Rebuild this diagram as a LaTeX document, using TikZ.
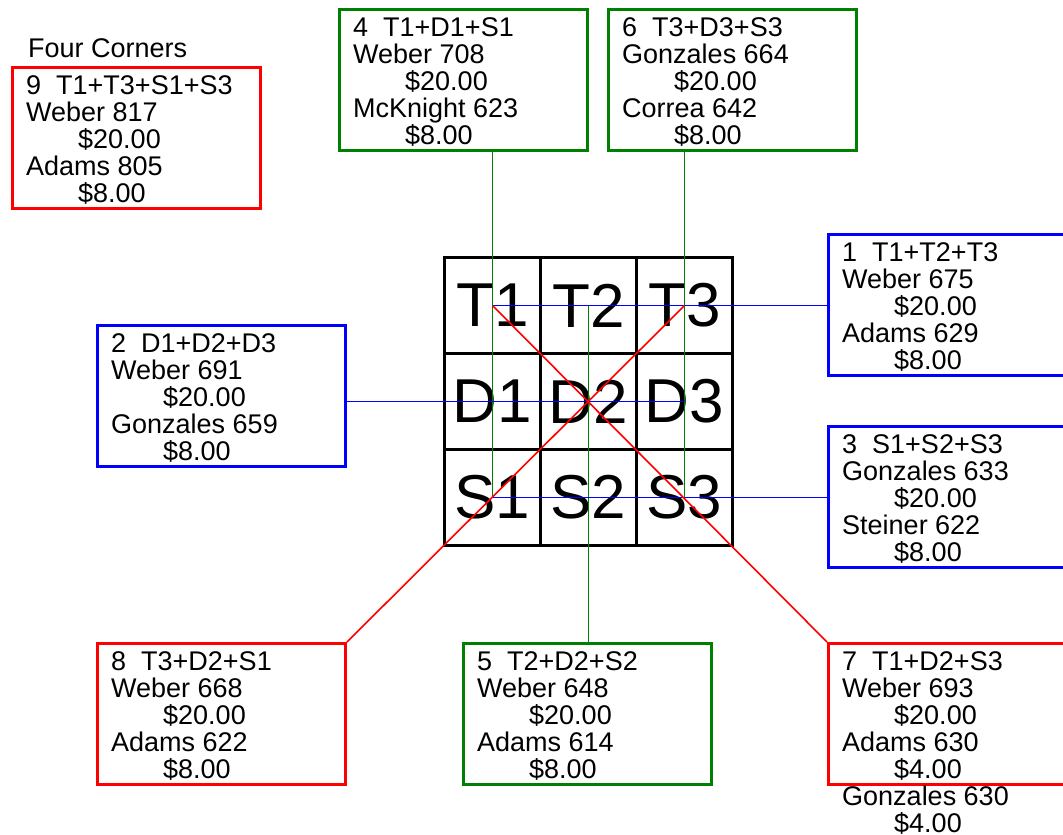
\documentclass[tikz,border=0pt]{standalone}
\usepackage[svgnames]{xcolor}
\usepackage{fontspec}
\setmainfont{Liberation Sans}
\usepackage{tikz}
\definecolor{rowblue}{RGB}{0,0,255}
\definecolor{colgreen}{RGB}{0,128,0}
\definecolor{diagred}{RGB}{255,0,0}
\newcommand{\amt}[1]{\hspace*{52pt}#1}

\begin{document}
\begin{tikzpicture}[x = 1pt, y = -1pt,
        card/.style = {draw = #1, line width = 3pt, minimum width = 248pt, minimum height = 141pt, anchor = north west, inner sep = 0pt},
        cardtext/.style = {anchor = north west, align = left, inner sep = 0pt, font = \fontsize{27}{27}\selectfont, xshift = 15pt, yshift = -9pt},
        cell/.style = {draw, line width = 3pt, minimum size = 96pt, inner sep = 0pt, font = \fontsize{62}{62}\selectfont},
        link/.style = {draw = #1, line width = 1.6pt}]
        \useasboundingbox (0, 0) rectangle (1063, 835);
        \foreach \r/\y in {T/305.5, D/401.5, S/497.5}
            {
                \foreach \c/\x in {1/492.5, 2/588.5, 3/684.5}
                    {
                        \node[cell] (\r\c) at (\x, \y) {\r\c};
                    }
            }
        \node[anchor = base west, inner sep = 0pt, font = \fontsize{27}{27}\selectfont] (fc) at (28, 57) {Four Corners};
        \node[card = diagred] (b9) at (11, 66) {};
        \node[card = colgreen] (b4) at (338, 8) {};
        \node[card = colgreen] (b6) at (607, 8) {};
        \node[card = rowblue] (b1) at (827, 233) {};
        \node[card = rowblue] (b2) at (96, 324) {};
        \node[card = rowblue] (b3) at (827, 425) {};
        \node[card = diagred] (b8) at (96, 642) {};
        \node[card = colgreen] (b5) at (462, 642) {};
        \node[card = diagred] (b7) at (827, 642) {};
        \node[cardtext] (t9) at (b9.north west) {9\ \ T1+T3+S1+S3\\Weber 817\\\amt{\$20.00}\\Adams 805\\\amt{\$8.00}};
        \node[cardtext] (t4) at (b4.north west) {4\ \ T1+D1+S1\\Weber 708\\\amt{\$20.00}\\McKnight 623\\\amt{\$8.00}};
        \node[cardtext] (t6) at (b6.north west) {6\ \ T3+D3+S3\\Gonzales 664\\\amt{\$20.00}\\Correa 642\\\amt{\$8.00}};
        \node[cardtext] (t1) at (b1.north west) {1\ \ T1+T2+T3\\Weber 675\\\amt{\$20.00}\\Adams 629\\\amt{\$8.00}};
        \node[cardtext] (t2) at (b2.north west) {2\ \ D1+D2+D3\\Weber 691\\\amt{\$20.00}\\Gonzales 659\\\amt{\$8.00}};
        \node[cardtext] (t3) at (b3.north west) {3\ \ S1+S2+S3\\Gonzales 633\\\amt{\$20.00}\\Steiner 622\\\amt{\$8.00}};
        \node[cardtext] (t8) at (b8.north west) {8\ \ T3+D2+S1\\Weber 668\\\amt{\$20.00}\\Adams 622\\\amt{\$8.00}};
        \node[cardtext] (t5) at (b5.north west) {5\ \ T2+D2+S2\\Weber 648\\\amt{\$20.00}\\Adams 614\\\amt{\$8.00}};
        \node[cardtext] (t7) at (b7.north west) {7\ \ T1+D2+S3\\Weber 693\\\amt{\$20.00}\\Adams 630\\\amt{\$4.00}\\Gonzales 630\\\amt{\$4.00}};
        \draw[link = colgreen] (b4.south -| T1.center) -- (S1.center);
        \draw[link = colgreen] (T2.center) -- (b5.north -| T2.center);
        \draw[link = colgreen] (b6.south -| T3.center) -- (S3.center);
        \draw[link = rowblue] (T1.center) -- (T1.center -| b1.west);
        \draw[link = rowblue] (D2.center -| b2.east) -- (D3.center);
        \draw[link = rowblue] (S1.center) -- (S1.center -| b3.west);
        \draw[link = diagred] (T1.center) -- (b7.north west);
        \draw[link = diagred] (T3.center) -- (b8.north east);
    \end{tikzpicture}
\end{document}
